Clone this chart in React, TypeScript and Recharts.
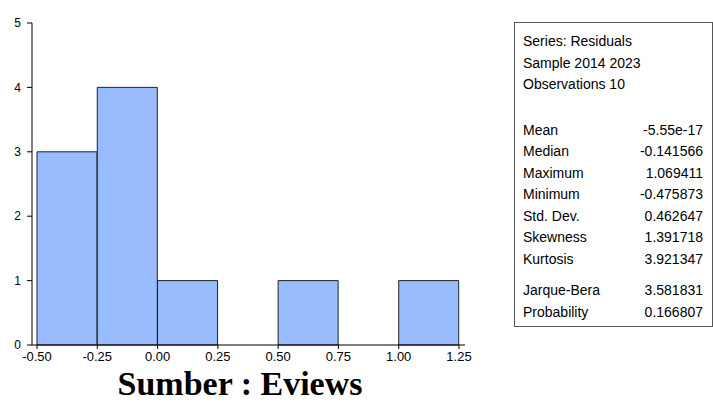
import React from 'react';
import { BarChart, Bar, XAxis, YAxis } from 'recharts';

// histogram bins of the residuals (width 0.25)
const binNames = ['-0.50/-0.25', '-0.25/0.00', '0.00/0.25', '0.25/0.50', '0.50/0.75', '0.75/1.00', '1.00/1.25'];
const binStarts = [-0.5, -0.25, 0, 0.25, 0.5, 0.75, 1.0];
const binCounts = [3, 4, 1, 0, 1, 0, 1];
const edgeTicks = [-0.5, -0.25, 0, 0.25, 0.5, 0.75, 1.0, 1.25];
const countTicks = [0, 1, 2, 3, 4, 5];

const headerLines = ['Series: Residuals', 'Sample 2014 2023', 'Observations 10'];
const statNames = ['Mean', 'Median', 'Maximum', 'Minimum', 'Std. Dev.', 'Skewness', 'Kurtosis'];
const statValues = ['-5.55e-17', '-0.141566', '1.069411', '-0.475873', '0.462647', '1.391718', '3.921347'];
const testNames = ['Jarque-Bera', 'Probability'];
const testValues = ['3.581831', '0.166807'];

const sourceNote = 'Sumber : Eviews';

const rows = binNames.map((name, i) => ({ bin: name, start: binStarts[i], count: binCounts[i] }));

const sans = 'Arial, "Liberation Sans", sans-serif';
const xTickStyle = { fill: '#000', fontSize: 13, fontFamily: sans };
const yTickStyle = { fill: '#000', fontSize: 12, fontFamily: sans };
const pad = { left: 5, right: 6 };

const StatRow: React.FC<{ name: string; value: string }> = ({ name, value }) => (
  <div style={{ display: 'flex', justifyContent: 'space-between' }}>
    <span>{name}</span>
    <span>{value}</span>
  </div>
);

const App: React.FC = () => {
  return (
    <div style={{ position: 'absolute', left: 0, top: 0, width: 713, height: 403, background: '#fff', overflow: 'hidden' }}>
      <BarChart
        width={713}
        height={403}
        data={rows}
        margin={{ top: 23, right: 248, bottom: 38, left: 0 }}
        barCategoryGap={0}
        barGap={0}
      >
        <XAxis xAxisId="bin" dataKey="bin" hide height={0} padding={pad} />
        <XAxis
          xAxisId="val"
          type="number"
          dataKey="start"
          domain={[-0.5, 1.25]}
          ticks={edgeTicks}
          tickFormatter={(v: number) => v.toFixed(2)}
          padding={pad}
          height={20}
          tickSize={4}
          tickMargin={3}
          tick={xTickStyle}
          axisLine={{ stroke: '#000' }}
          tickLine={{ stroke: '#000' }}
          interval={0}
        />
        <XAxis
          xAxisId="top"
          dataKey="bin"
          orientation="top"
          height={0}
          tick={false}
          tickLine={false}
          axisLine={{ stroke: '#000' }}
        />
        <YAxis
          domain={[0, 5]}
          ticks={countTicks}
          width={32}
          tickSize={5}
          tickMargin={6}
          tick={yTickStyle}
          axisLine={{ stroke: '#000' }}
          tickLine={{ stroke: '#000' }}
          interval={0}
        />
        <YAxis
          yAxisId="right"
          orientation="right"
          width={0}
          tick={false}
          tickLine={false}
          axisLine={{ stroke: '#000' }}
        />
        <Bar xAxisId="bin" dataKey="count" fill="#99bbff" stroke="#222" strokeWidth={1} isAnimationActive={false} />
      </BarChart>

      <div
        style={{
          position: 'absolute',
          left: 514,
          top: 22,
          width: 199,
          height: 305,
          boxSizing: 'border-box',
          border: '1px solid #555',
          padding: '8px 9px 0 8px',
          fontFamily: sans,
          fontSize: 14,
          lineHeight: '21.5px',
          color: '#000',
        }}
      >
        {headerLines.map((t) => (
          <div key={t}>{t}</div>
        ))}
        <div style={{ height: 24 }} />
        {statNames.map((n, i) => (
          <StatRow key={n} name={n} value={statValues[i]} />
        ))}
        <div style={{ height: 10 }} />
        {testNames.map((n, i) => (
          <StatRow key={n} name={n} value={testValues[i]} />
        ))}
      </div>

      <div
        style={{
          position: 'absolute',
          left: 0,
          width: 480,
          top: 367,
          textAlign: 'center',
          fontFamily: '"Times New Roman", "Liberation Serif", serif',
          fontWeight: 'bold',
          fontSize: 34,
          lineHeight: '33px',
          whiteSpace: 'nowrap',
          color: '#000',
        }}
      >
        {sourceNote}
      </div>
    </div>
  );
};

export default App;
